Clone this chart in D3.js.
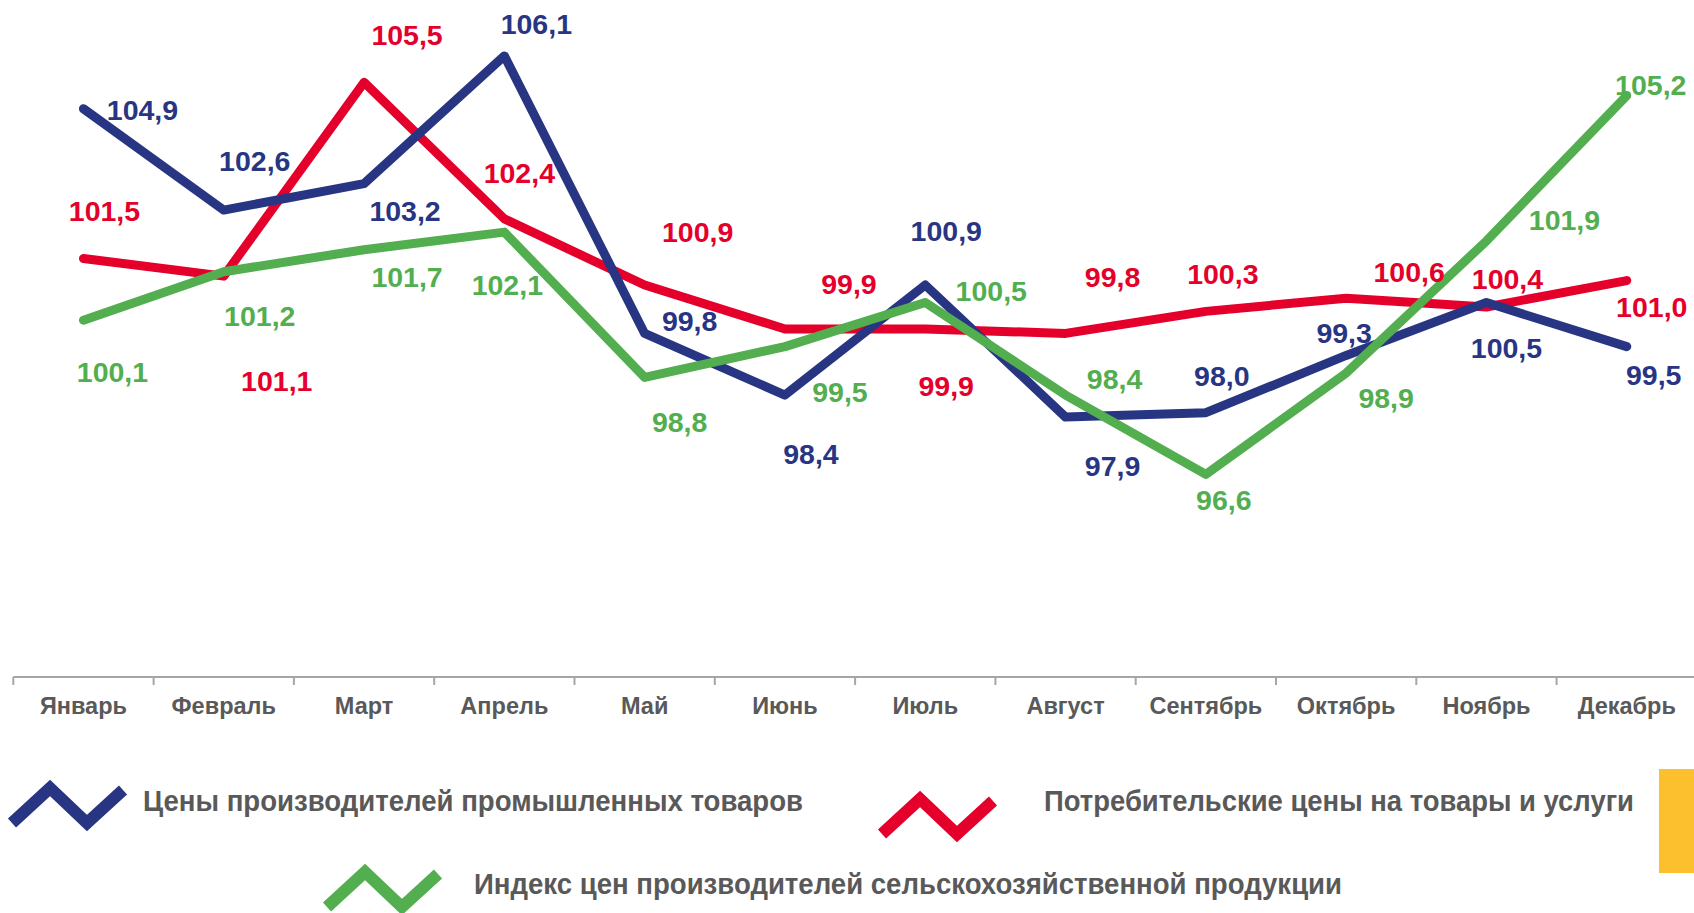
<!DOCTYPE html>
<html><head><meta charset="utf-8">
<script src="https://cdn.jsdelivr.net/npm/d3@7"></script>
<style>html,body{margin:0;padding:0;background:#fff;overflow:hidden}</style>
</head><body>
<svg id="chart" width="1694" height="913"></svg>
<script>
const months = ["Январь","Февраль","Март","Апрель","Май","Июнь","Июль","Август","Сентябрь","Октябрь","Ноябрь","Декабрь"];
const industrial = [104.9,102.6,103.2,106.1,99.8,98.4,100.9,97.9,98.0,99.3,100.5,99.5];
const consumer = [101.5,101.1,105.5,102.4,100.9,99.9,99.9,99.8,100.3,100.6,100.4,101.0];
const agricultural = [100.1,101.2,101.7,102.1,98.8,99.5,100.5,98.4,96.6,98.9,101.9,105.2];
const seriesNames = ["Цены производителей промышленных товаров","Потребительские цены на товары и услуги","Индекс цен производителей сельскохозяйственной продукции"];

// label placement (px offsets from the point), layout only
const offIndustrial = [[59,1],[31,-49],[41,27],[32,-32],[45,-12],[26,59],[21,-54],[47,49],[16,-37],[-2,-22],[20,45],[27,28]];
const offConsumer = [[21,-48],[53,105],[43,-47],[15,-46],[53,-53],[64,-45],[21,57],[47,-56],[17,-37],[63,-26],[21,-28],[25,26]];
const offAgri = [[29,52],[36,44],[43,27],[3,53],[35,45],[55,45],[66,-12],[49,-16],[18,26],[40,25],[78,-21],[24,-11]];

const svg = d3.select("#chart");
const x = d3.scaleBand().domain(months).range([13.3, 1696.9]).padding(0);
const y = d3.scaleLinear().domain([92,107]).range([677, 677-15*44.05]);
const cx = m => x(m) + x.bandwidth()/2;

// axis
const gA = svg.append("g").attr("transform","translate(0,677)");
gA.append("line").attr("x1",13.3).attr("x2",1694).attr("stroke","#a6a6a6").attr("stroke-width",2);
gA.selectAll("line.tk").data(months).enter().append("line")
  .attr("class","tk").attr("x1",d=>x(d)).attr("x2",d=>x(d)).attr("y1",0).attr("y2",8)
  .attr("stroke","#a6a6a6").attr("stroke-width",2);
gA.selectAll("text.ml").data(months).enter().append("text")
  .attr("class","ml").attr("x",d=>cx(d)).attr("y",29)
  .attr("text-anchor","middle").attr("dominant-baseline","central")
  .attr("font-family","Liberation Sans, Arial, sans-serif").attr("font-weight","bold")
  .attr("font-size",23.5).attr("fill","#595959").text(d=>d);

const series = [
  {vals: consumer, color:"#e4002b", off: offConsumer},
  {vals: industrial, color:"#283583", off: offIndustrial},
  {vals: agricultural, color:"#52ae4f", off: offAgri}
];
const line = d3.line().x((d,i)=>cx(months[i])).y(d=>y(d));
series.forEach(s=>{
  svg.append("path").datum(s.vals).attr("d",line).attr("fill","none")
    .attr("stroke",s.color).attr("stroke-width",9)
    .attr("stroke-linejoin","round").attr("stroke-linecap","round");
});
series.forEach(s=>{
  svg.append("g").selectAll("text").data(s.vals).enter().append("text")
    .attr("x",(d,i)=>cx(months[i])+s.off[i][0])
    .attr("y",(d,i)=>y(d)+s.off[i][1])
    .attr("text-anchor","middle").attr("dominant-baseline","central")
    .attr("font-family","Liberation Sans, Arial, sans-serif").attr("font-weight","bold")
    .attr("font-size",28.5).attr("fill",s.color)
    .text(d=>d3.format(".1f")(d).replace(".",","));
});

// legend
const legend = [
  {name: seriesNames[0], color:"#283583", ix:12, iy:823, tx:143, ty:801, tw:660},
  {name: seriesNames[1], color:"#e4002b", ix:882, iy:834, tx:1044, ty:801, tw:590},
  {name: seriesNames[2], color:"#52ae4f", ix:327, iy:907, tx:474, ty:884, tw:868}
];
legend.forEach(l=>{
  const pts = [[0,0],[38,-35],[75,0],[111,-33]].map(p=>[l.ix+p[0], l.iy+p[1]]);
  svg.append("path").attr("d", d3.line()(pts)).attr("fill","none")
    .attr("stroke",l.color).attr("stroke-width",12).attr("stroke-linejoin","miter");
  svg.append("text").attr("x",l.tx).attr("y",l.ty).attr("dominant-baseline","central")
    .attr("font-family","Liberation Sans, Arial, sans-serif").attr("font-weight","bold")
    .attr("font-size",29).attr("fill","#595959")
    .attr("textLength",l.tw).attr("lengthAdjust","spacingAndGlyphs").text(l.name);
});
svg.append("rect").attr("x",1659).attr("y",769).attr("width",40).attr("height",104).attr("fill","#fcbf2d");
</script>
</body></html>
